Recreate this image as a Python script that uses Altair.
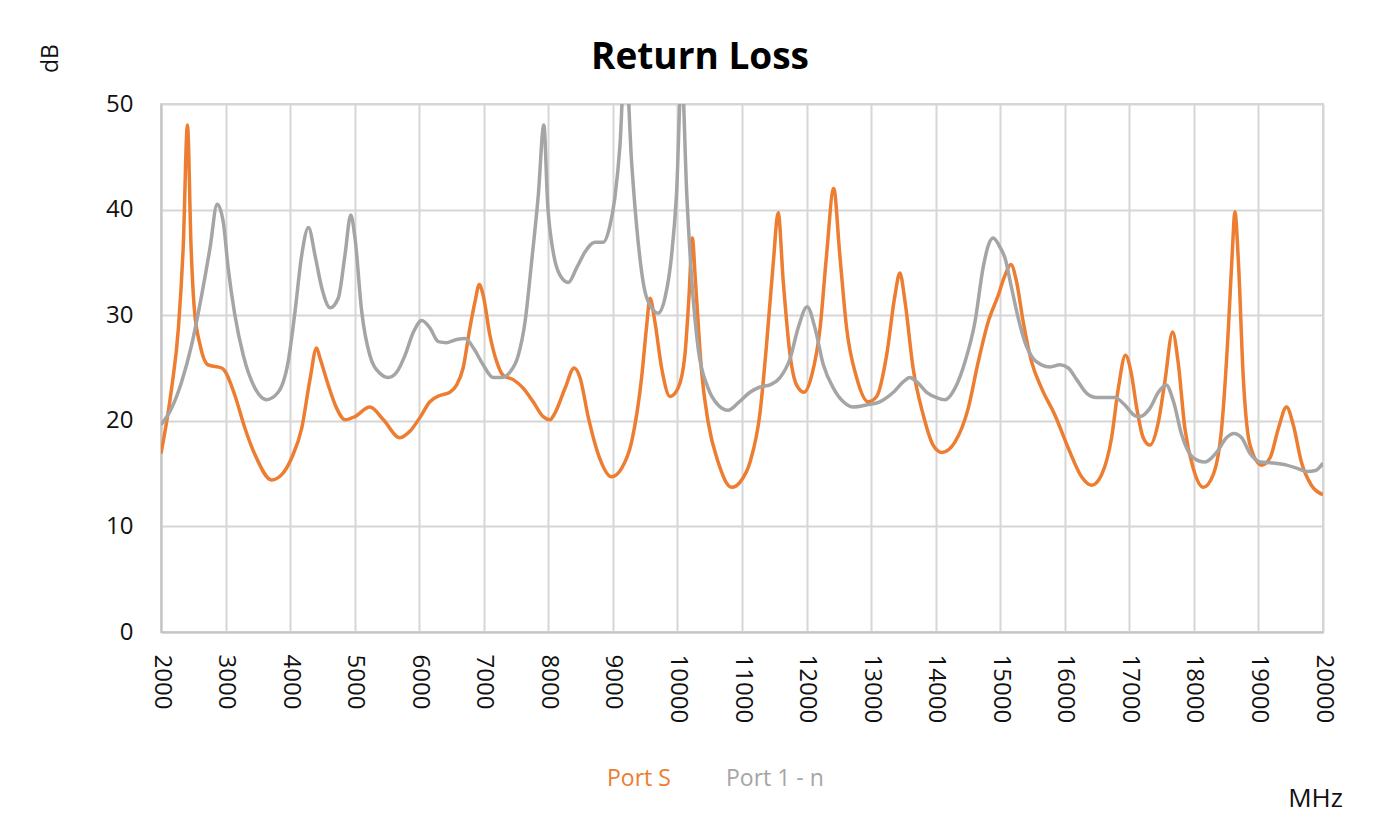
import altair as alt
import pandas as pd

# ---- data ----
series_names = ["Port S", "Port 1 - n"]
series_colors = ["#ED7D31", "#A5A5A5"]

port_s_mhz = [2000, 2165, 2270, 2345, 2410, 2465, 2515, 2605, 2730, 2940, 2990, 3145, 3300, 3455,
              3715, 3870, 4025, 4180, 4310, 4410, 4460, 4590, 4720, 4850, 5005, 5235, 5445, 5700,
              5855, 6010, 6165, 6320, 6475, 6580, 6680, 6785, 6865, 6930, 6990, 7095, 7200, 7300,
              7455, 7610, 7765, 7920, 8025, 8100, 8260, 8400, 8490, 8620, 8775, 8980, 9135, 9290,
              9445, 9520, 9575, 9650, 9755, 9885, 10010, 10115, 10180, 10230, 10280, 10375, 10475,
              10630, 10840, 10970, 11125, 11280, 11380, 11485, 11560, 11640, 11745, 11845, 11960,
              12080, 12210, 12310, 12420, 12515, 12620, 12775, 12955, 13085, 13240, 13370, 13445,
              13525, 13650, 13810, 13960, 14100, 14300, 14505, 14660, 14815, 14970, 15075, 15165,
              15255, 15355, 15485, 15640, 15850, 16055, 16260, 16415, 16570, 16725, 16830, 16940,
              17030, 17115, 17215, 17320, 17450, 17550, 17670, 17755, 17860, 17990, 18145, 18300,
              18430, 18535, 18600, 18635, 18690, 18765, 18870, 19050, 19180, 19310, 19435, 19540,
              19665, 19820, 20000]
port_s_db = [16.9, 23.1, 28.8, 36.6, 48.0, 36.6, 30.7, 27.2, 25.3, 25.0, 24.7, 22.4, 19.3, 16.8,
             14.4, 14.9, 16.5, 19.3, 24.0, 26.9, 26.0, 23.4, 21.2, 20.1, 20.4, 21.3, 20.1, 18.4,
             19.0, 20.3, 21.8, 22.4, 22.7, 23.4, 25.0, 28.8, 31.3, 32.9, 31.9, 28.1, 25.6, 24.3,
             23.9, 23.1, 21.8, 20.4, 20.1, 20.7, 23.1, 25.0, 24.1, 20.3, 16.8, 14.7, 15.5, 18.0,
             24.1, 28.8, 31.6, 29.4, 25.0, 22.3, 23.1, 26.2, 31.9, 37.3, 33.1, 24.6, 19.9,
             16.1, 13.7, 14.2, 16.1, 20.8, 27.2, 35.0, 39.7, 33.1, 26.2, 23.4, 22.7,
             24.3, 28.8, 35.7, 42.0, 35.7, 28.8, 24.1, 21.8, 22.3, 26.2, 31.9, 34.0,
             31.3, 25.0, 20.5, 17.7, 17.0, 18.0, 21.2, 25.6, 29.4, 31.9, 33.8, 34.8,
             33.1, 29.4, 25.6, 23.1, 20.5, 17.4, 14.7, 13.9, 14.9, 18.4, 23.1, 26.2,
             24.5, 21.2, 18.4, 17.7, 19.9, 23.7, 28.4, 25.6, 19.3, 15.5, 13.7, 14.9,
             19.3, 28.8, 36.6, 39.8, 35.0, 24.1, 17.7, 15.8, 16.5, 19.3, 21.3, 19.6,
             16.1, 13.9, 13.0]

port_1n_mhz = [2000, 2165, 2320, 2475, 2630, 2760, 2870, 2965, 3040, 3145, 3275, 3455, 3635, 3815,
               3970, 4075, 4180, 4285, 4385, 4490, 4620, 4745, 4850, 4940, 5005, 5110, 5235, 5390,
               5520, 5650, 5780, 5910, 6040, 6165, 6295, 6425, 6580, 6710, 6840, 6990, 7145, 7275,
               7405, 7535, 7640, 7740, 7845, 7930, 7990, 8075, 8180, 8310, 8440, 8570, 8720, 8850,
               8955, 9030, 9110, 9190, 9290, 9370, 9470, 9600, 9700, 9805, 9910, 9985, 10065, 10145,
               10220, 10320, 10475, 10630, 10785, 10940, 11125, 11280, 11435, 11590, 11745, 11870,
               12010, 12130, 12260, 12415, 12570, 12725, 12930, 13135, 13345, 13500, 13600, 13705,
               13860, 14015, 14145, 14300, 14455, 14610, 14735, 14815, 14890, 15000, 15075, 15175,
               15280, 15380, 15510, 15640, 15770, 15925, 16055, 16185, 16340, 16495, 16650, 16775,
               16930, 17085, 17165, 17320, 17450, 17570, 17685, 17810, 17990, 18170, 18350, 18505,
               18620, 18740, 18870, 19025, 19230, 19435, 19600, 19755, 19885, 20000]
port_1n_db = [19.6, 21.2, 23.7, 27.2, 31.9, 36.4, 40.5, 38.8, 34.5, 30.0, 26.2, 23.1, 22.0, 22.7,
              25.6, 30.3, 35.7, 38.3, 35.7, 32.6, 30.7, 31.6, 35.7, 39.5, 37.3, 30.3, 26.2, 24.5,
              24.1, 24.6, 26.2, 28.4, 29.5, 28.8, 27.5, 27.4, 27.7, 27.8, 26.9, 25.3, 24.1, 24.1,
              24.6, 26.2, 29.4, 35.0, 41.4, 48.0, 40.5, 36.0, 33.8, 33.1, 34.5, 36.0, 36.9, 36.9,
              38.5, 41.1, 46.1, 55.0, 44.5, 38.3, 33.1, 30.7, 30.2, 31.6, 35.7, 41.4, 53.0, 41.4,
              33.5, 26.9, 23.1, 21.5, 21.0, 21.7, 22.7, 23.2, 23.4, 24.1, 25.9, 28.8,
              30.8, 28.8, 25.3, 23.1, 21.8, 21.3, 21.5, 21.8, 22.7, 23.7, 24.1, 23.7,
              22.7, 22.2, 22.0, 23.1, 25.6, 29.4, 34.5, 36.6, 37.3, 36.4, 35.4, 32.6,
              29.7, 27.5, 25.9, 25.3, 25.1, 25.3, 25.0, 23.9, 22.6, 22.2, 22.2, 22.2,
              21.5, 20.5, 20.4, 21.2, 22.7, 23.4, 21.8, 18.7, 16.5, 16.1, 17.0, 18.4,
              18.8, 18.4, 16.9, 16.1, 16.0, 15.8, 15.5, 15.2, 15.3, 16.0]

x_ticks = list(range(2000, 20001, 1000))
y_ticks = [0, 10, 20, 30, 40, 50]

df = pd.concat([
    pd.DataFrame({"MHz": port_s_mhz, "dB": port_s_db, "Series": series_names[0]}),
    pd.DataFrame({"MHz": port_1n_mhz, "dB": port_1n_db, "Series": series_names[1]}),
], ignore_index=True)

FONT = "Open Sans"
label_color_expr = "datum.label == 'Port S' ? '%s' : '%s'" % (series_colors[0], series_colors[1])

chart = alt.Chart(df).mark_line(strokeWidth=3.5, interpolate="monotone", clip=True).encode(
    x=alt.X("MHz:Q",
            scale=alt.Scale(domain=[2000, 20000], nice=False, zero=False),
            axis=alt.Axis(values=x_ticks, format="d", labelAngle=90, labelAlign="left",
                          labelBaseline="middle", labelPadding=22, labelFont=FONT,
                          labelFontSize=24, labelColor="#111111", ticks=False,
                          title="MHz", titleX=1154, titleY=166, titleAlign="center",
                          titleBaseline="middle", titleFont=FONT, titleFontSize=26,
                          titleFontWeight="normal", titleColor="#111111",
                          gridColor="#D6D6D6", gridWidth=2, domainColor="#C4C4C4",
                          domainWidth=2)),
    y=alt.Y("dB:Q",
            scale=alt.Scale(domain=[0, 50], nice=False),
            axis=alt.Axis(values=y_ticks, labelPadding=28, labelFont=FONT, labelFontSize=24,
                          labelColor="#111111", ticks=False,
                          title="dB", titleAngle=270, titleX=-111, titleY=-46,
                          titleAlign="center", titleBaseline="middle", titleFont=FONT,
                          titleFontSize=23, titleFontWeight="normal", titleColor="#111111",
                          gridColor="#D6D6D6", gridWidth=2, domainColor="#C4C4C4",
                          domainWidth=2)),
    color=alt.Color("Series:N",
                    scale=alt.Scale(domain=series_names, range=series_colors),
                    sort=series_names,
                    legend=alt.Legend(title=None, orient="none", legendX=423, legendY=663,
                                      direction="horizontal", symbolSize=0,
                                      symbolStrokeWidth=0, labelFont=FONT, labelFontSize=23,
                                      labelColor=alt.ExprRef(label_color_expr),
                                      columnPadding=32, labelOffset=0)),
).properties(
    width=1162,
    height=528,
    autosize="none",
    padding={"left": 153, "top": 96, "right": 46, "bottom": 200},
    title=alt.TitleParams(text="Return Loss", font=FONT, fontSize=37, fontWeight="bold",
                          color="#000000", anchor="middle", frame="group", dx=-42, dy=37),
).configure_view(stroke="#D6D6D6", strokeWidth=2)

chart.save("out.html", embed_options={"renderer": "svg", "actions": False})
